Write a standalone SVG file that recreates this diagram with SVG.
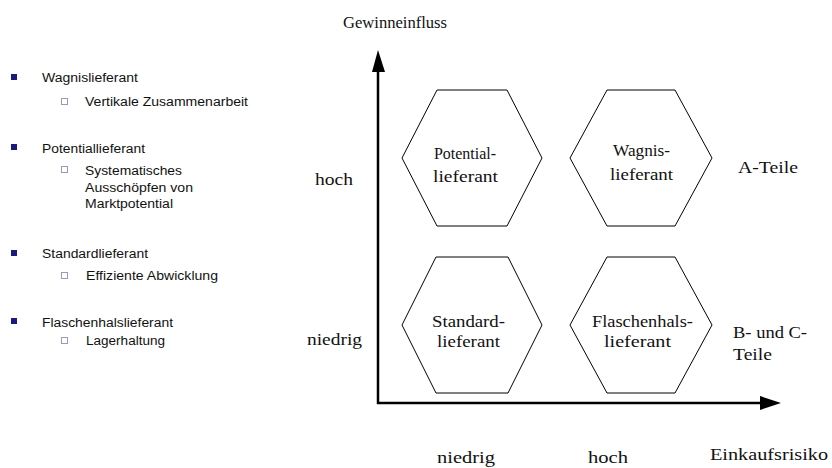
<svg xmlns="http://www.w3.org/2000/svg" width="832" height="468" viewBox="0 0 832 468">
<style>
.s{font-family:"Liberation Sans",Arial,sans-serif;font-size:12.5px;fill:#111}
.t{font-family:"Liberation Serif","Times New Roman",serif;font-size:16px;fill:#111}
.m{text-anchor:middle}
.hex{fill:#fff;stroke:#000;stroke-width:1}
.b{fill:#1a1a80}
.h{fill:#fff;stroke:#9a9ab8;stroke-width:1}
.ax{stroke:#000;stroke-width:2.5;fill:none}
</style>
<rect width="832" height="468" fill="#fff"/>
<g id="legend">
<rect class="b" x="11" y="74" width="6" height="6"/>
<text class="s" x="42" y="82" textLength="96" lengthAdjust="spacingAndGlyphs">Wagnislieferant</text>
<rect class="h" x="61.5" y="98.5" width="6" height="6"/>
<text class="s" x="85" y="106" textLength="163" lengthAdjust="spacingAndGlyphs">Vertikale Zusammenarbeit</text>
<rect class="b" x="11" y="144" width="6" height="6"/>
<text class="s" x="42" y="153" textLength="103" lengthAdjust="spacingAndGlyphs">Potentiallieferant</text>
<rect class="h" x="61.5" y="166.5" width="6" height="6"/>
<text class="s" x="85" y="175" textLength="97" lengthAdjust="spacingAndGlyphs">Systematisches</text>
<text class="s" x="85" y="192" textLength="108" lengthAdjust="spacingAndGlyphs">Ausschöpfen von</text>
<text class="s" x="85" y="208" textLength="88" lengthAdjust="spacingAndGlyphs">Marktpotential</text>
<rect class="b" x="11" y="250" width="6" height="6"/>
<text class="s" x="42" y="258" textLength="106" lengthAdjust="spacingAndGlyphs">Standardlieferant</text>
<rect class="h" x="61.5" y="272.5" width="6" height="6"/>
<text class="s" x="86" y="280" textLength="132" lengthAdjust="spacingAndGlyphs">Effiziente Abwicklung</text>
<rect class="b" x="11" y="318" width="6" height="6"/>
<text class="s" x="42" y="327" textLength="131" lengthAdjust="spacingAndGlyphs">Flaschenhalslieferant</text>
<rect class="h" x="61.5" y="337.5" width="6" height="6"/>
<text class="s" x="86" y="345" textLength="79" lengthAdjust="spacingAndGlyphs">Lagerhaltung</text>
</g>
<g id="connectors">
<line class="ax" x1="378" y1="404" x2="378" y2="68"/>
<polygon points="378,50 372,72 385,72" fill="#000"/>
<line class="ax" x1="377" y1="403" x2="764" y2="403"/>
<polygon points="781,403 760,396 760,410" fill="#000"/>
</g>
<g id="axis-labels">
<text class="t" x="343" y="28" textLength="104" lengthAdjust="spacingAndGlyphs">Gewinneinfluss</text>
<text class="t" x="315" y="185" textLength="38" lengthAdjust="spacingAndGlyphs">hoch</text>
<text class="t" x="307" y="345" textLength="55" lengthAdjust="spacingAndGlyphs">niedrig</text>
<text class="t" x="437" y="463" textLength="58" lengthAdjust="spacingAndGlyphs">niedrig</text>
<text class="t" x="588" y="463" textLength="40" lengthAdjust="spacingAndGlyphs">hoch</text>
<text class="t" x="710" y="460" textLength="118" lengthAdjust="spacingAndGlyphs">Einkaufsrisiko</text>
<text class="t" x="738" y="173" textLength="60" lengthAdjust="spacingAndGlyphs">A-Teile</text>
<text class="t" x="733" y="338" textLength="74" lengthAdjust="spacingAndGlyphs">B- und C-</text>
<text class="t" x="733" y="360" textLength="39" lengthAdjust="spacingAndGlyphs">Teile</text>
</g>
<g id="potentiallieferant">
<polygon class="hex" points="437,90 507,90 542,158 507,226 437,226 402,158"/>
<text class="t" x="434" y="159" textLength="62" lengthAdjust="spacingAndGlyphs">Potential-</text>
<text class="t" x="433" y="182" textLength="65" lengthAdjust="spacingAndGlyphs">lieferant</text>
</g>
<g id="wagnislieferant">
<polygon class="hex" points="607,90 675,90 712,158 675,226 607,226 570,158"/>
<text class="t" x="613" y="156" textLength="57" lengthAdjust="spacingAndGlyphs">Wagnis-</text>
<text class="t" x="610" y="180" textLength="63" lengthAdjust="spacingAndGlyphs">lieferant</text>
</g>
<g id="standardlieferant">
<polygon class="hex" points="436,257 508,257 542,325 508,393 436,393 402,325"/>
<text class="t" x="432" y="327" textLength="73" lengthAdjust="spacingAndGlyphs">Standard-</text>
<text class="t" x="437" y="347" textLength="63" lengthAdjust="spacingAndGlyphs">lieferant</text>
</g>
<g id="flaschenhalslieferant">
<polygon class="hex" points="607,257 675,257 712,325 675,393 607,393 570,325"/>
<text class="t" x="592" y="327" textLength="101" lengthAdjust="spacingAndGlyphs">Flaschenhals-</text>
<text class="t" x="604" y="347" textLength="67" lengthAdjust="spacingAndGlyphs">lieferant</text>
</g>
</svg>
